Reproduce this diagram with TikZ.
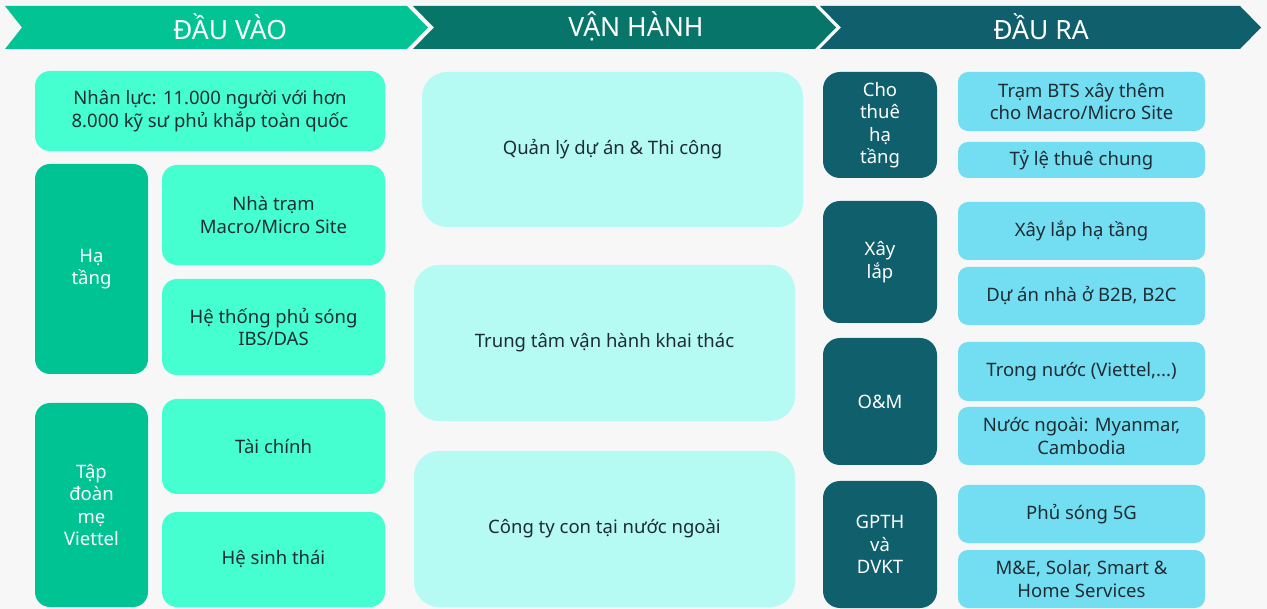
\documentclass[tikz,border=0pt]{standalone}
\usepackage{fontspec}
\setmainfont{Noto Sans}
\definecolor{cBg}{HTML}{F7F7F7}
\definecolor{cHeadA}{HTML}{02C394}
\definecolor{cHeadB}{HTML}{08756B}
\definecolor{cDark}{HTML}{0F5F6D}
\definecolor{cGreen}{HTML}{00C394}
\definecolor{cGreenL}{HTML}{45FFD0}
\definecolor{cMid}{HTML}{B5FBF4}
\definecolor{cLight}{HTML}{73DDF1}
\definecolor{cText}{HTML}{1E2C33}
\tikzset{
  base/.style={inner sep=0pt, outer sep=0pt, align=center, font=\fontsize{18.5}{22.5}\selectfont},
  sz/.style 2 args={minimum width=#1pt, minimum height=#2pt},
  lg/.style={base, fill=cGreenL, text=cText, rounded corners=15pt},
  dg/.style={base, fill=cGreen, text=white, rounded corners=15pt},
  mid/.style={base, fill=cMid, text=cText, rounded corners=25pt},
  rd/.style={base, fill=cDark, text=white, rounded corners=17pt},
  rl/.style={base, fill=cLight, text=cText, rounded corners=10pt},
  head/.style={inner sep=0pt, text=white, font=\fontsize{26.5}{30}\selectfont},
}
\begin{document}
\begin{tikzpicture}[x=1pt,y=-1pt]
\useasboundingbox (0,0) rectangle (1267,609);
\fill[cBg] (0,0) rectangle (1267,609);
% header chevrons
\fill[cHeadA] (5,6) -- (407,6) -- (428,27.5) -- (407,49) -- (5,49) -- (22,27.5) -- cycle;
\fill[cHeadB] (413,6) -- (815,6) -- (836,27.5) -- (815,49) -- (413,49) -- (434,27.5) -- cycle;
\fill[cDark] (820,6) -- (1240,6) -- (1261,27.5) -- (1240,49) -- (820,49) -- (841,27.5) -- cycle;
\node[head] (h1) at (230,26.5) {ĐẦU VÀO};
\node[head] (h2) at (636,26.5) {VẬN HÀNH};
\node[head] (h3) at (1041,26.5) {ĐẦU RA};
% left column
\node[lg, sz={350}{80}] (nhan) at (210,111) {Nhân lực: 11.000 người với hơn\\8.000 kỹ sư phủ khắp toàn quốc};
\node[dg, sz={113}{210}] (hatang) at (91.5,269) {Hạ\\tầng};
\node[lg, sz={223}{100}] (nhatram) at (273.5,215) {Nhà trạm\\Macro/Micro Site};
\node[lg, sz={223}{96}] (hethong) at (273.5,327) {Hệ thống phủ sóng\\IBS/DAS};
\node[dg, sz={113}{204}] (tapdoan) at (91.5,505) {Tập\\đoàn\\mẹ\\Viettel};
\node[lg, sz={223}{95}] (taichinh) at (273.5,446.5) {Tài chính};
\node[lg, sz={223}{95}] (hesinh) at (273.5,559.5) {Hệ sinh thái};
% middle column
\node[mid, sz={381}{155}] (quanly) at (612.5,149.5) {Quản lý dự án \& Thi công};
\node[mid, sz={381}{156}] (trungtam) at (604.5,343) {Trung tâm vận hành khai thác};
\node[mid, sz={381}{156}] (congty) at (604.5,529) {Công ty con tại nước ngoài};
% right column
\node[rd, sz={114}{106}] (chothue) at (880,125) {Cho\\thuê\\hạ\\tầng};
\node[rl, sz={247}{59}] (tram) at (1081.5,101.5) {Trạm BTS xây thêm\\cho Macro/Micro Site};
\node[rl, sz={247}{36}] (tyle) at (1081.5,160) {Tỷ lệ thuê chung};
\node[rd, sz={114}{122}] (xaylap) at (880,262) {Xây\\lắp};
\node[rl, sz={247}{58}] (xlht) at (1081.5,231) {Xây lắp hạ tầng};
\node[rl, sz={247}{58}] (duan) at (1081.5,296) {Dự án nhà ở B2B, B2C};
\node[rd, sz={114}{127}] (om) at (880,401.5) {O\&M};
\node[rl, sz={247}{59}] (trongnuoc) at (1081.5,371.5) {Trong nước (Viettel,...)};
\node[rl, sz={247}{58}] (nuocngoai) at (1081.5,436) {Nước ngoài: Myanmar,\\Cambodia};
\node[rd, sz={114}{127}] (gpth) at (880,544.5) {GPTH\\và\\DVKT};
\node[rl, sz={247}{58}] (phusong) at (1081.5,514) {Phủ sóng 5G};
\node[rl, sz={247}{58}] (me) at (1081.5,579) {M\&E, Solar, Smart \&\\Home Services};
\end{tikzpicture}
\end{document}
